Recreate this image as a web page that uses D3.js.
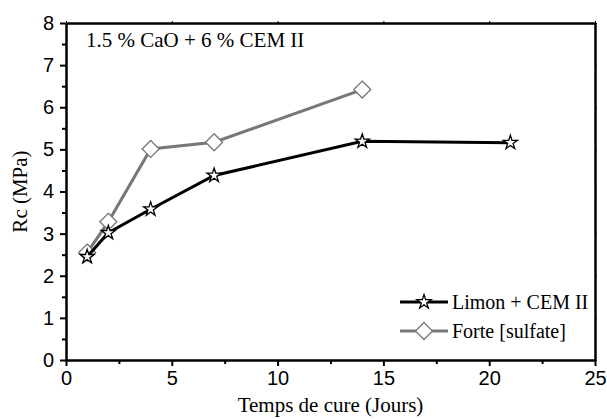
<!DOCTYPE html>
<html>
<head>
<meta charset="utf-8">
<script src="https://cdn.jsdelivr.net/npm/d3@7"></script>
<style>
  body { margin: 0; background: #fff; }
  .tick text { font-family: "Liberation Sans", Arial, sans-serif; }
</style>
</head>
<body>
<div id="chart"></div>
<script>
// data
const days = [1, 2, 4, 7, 14, 21];
const limonCem = [2.45, 3.02, 3.58, 4.38, 5.19, 5.16];
const forteDays = [1, 2, 4, 7, 14];
const forteSulfate = [2.55, 3.28, 5.01, 5.17, 6.42];
const xTicks = [0, 5, 10, 15, 20, 25];
const yTicks = [0, 1, 2, 3, 4, 5, 6, 7, 8];
const seriesNames = ["Limon + CEM II", "Forte [sulfate]"];
const titleText = "1.5 % CaO + 6 % CEM II";

const W = 607, H = 419;
const margin = { top: 23, right: 12, bottom: 59, left: 66 };
const width = W - margin.left - margin.right;
const height = H - margin.top - margin.bottom;

const svg = d3.select("#chart").append("svg")
    .attr("width", W)
    .attr("height", H);

const g = svg.append("g")
    .attr("transform", `translate(${margin.left},${margin.top})`);

const x = d3.scaleLinear().domain([0, 25]).range([0, width]);
const y = d3.scaleLinear().domain([0, 8]).range([height, 0]);

// minor ticks
g.append("g")
    .attr("transform", `translate(0,${height})`)
    .call(d3.axisBottom(x).tickValues(d3.range(2.5, 25, 5)).tickSize(4).tickFormat(""))
    .call(a => a.select(".domain").remove())
    .selectAll("line").attr("stroke-width", 2);
g.append("g")
    .call(d3.axisLeft(y).tickValues(d3.range(0.5, 8, 1)).tickSize(4).tickFormat(""))
    .call(a => a.select(".domain").remove())
    .selectAll("line").attr("stroke-width", 2);

// top / right frame with tiny ticks
g.append("g")
    .call(d3.axisTop(x).tickValues(xTicks).tickSize(2).tickFormat("").tickSizeOuter(0))
    .call(a => a.select(".domain").attr("stroke-width", 2.5));
g.append("g")
    .attr("transform", `translate(${width},0)`)
    .call(d3.axisRight(y).tickValues(yTicks).tickSize(2).tickFormat("").tickSizeOuter(0))
    .call(a => a.select(".domain").attr("stroke-width", 2.5));

// major axes
const xAxis = g.append("g")
    .attr("transform", `translate(0,${height})`)
    .call(d3.axisBottom(x).tickValues(xTicks).tickSize(6).tickPadding(5).tickSizeOuter(0));
xAxis.select(".domain").attr("stroke-width", 2.5);
xAxis.selectAll("line").attr("stroke-width", 2);
xAxis.selectAll("text").style("font-size", "20px").attr("fill", "#000");

const yAxis = g.append("g")
    .call(d3.axisLeft(y).tickValues(yTicks).tickSize(6).tickPadding(6).tickSizeOuter(0));
yAxis.select(".domain").attr("stroke-width", 2.5);
yAxis.selectAll("line").attr("stroke-width", 2);
yAxis.selectAll("text").style("font-size", "20px").attr("fill", "#000");

// axis titles
svg.append("text")
    .attr("x", margin.left + width / 2)
    .attr("y", 412)
    .attr("text-anchor", "middle")
    .style("font-family", "'Liberation Serif', 'Times New Roman', serif")
    .style("font-size", "21px")
    .text("Temps de cure (Jours)");

svg.append("text")
    .attr("transform", `translate(27,${margin.top + height / 2}) rotate(-90)`)
    .attr("text-anchor", "middle")
    .style("font-family", "'Liberation Serif', 'Times New Roman', serif")
    .style("font-size", "21px")
    .text("Rc (MPa)");

g.append("text")
    .attr("x", 20)
    .attr("y", 24)
    .style("font-family", "'Liberation Serif', 'Times New Roman', serif")
    .style("font-size", "21px")
    .text(titleText);

const star = d3.symbol().type(d3.symbolStar).size(62);
const diamond = d => `M0,${-d}L${d},0L0,${d}L${-d},0Z`;

const line = d3.line().x(d => x(d[0])).y(d => y(d[1]));

const forteData = forteDays.map((d, i) => [d, forteSulfate[i]]);
const limonData = days.map((d, i) => [d, limonCem[i]]);

// gray series
g.append("path")
    .datum(forteData)
    .attr("d", line)
    .attr("fill", "none")
    .attr("stroke", "#777")
    .attr("stroke-width", 3);
g.selectAll(".dia")
    .data(forteData)
    .enter().append("path")
    .attr("class", "dia")
    .attr("transform", d => `translate(${x(d[0])},${y(d[1])})`)
    .attr("d", diamond(8.5))
    .attr("fill", "#fff")
    .attr("stroke", "#777")
    .attr("stroke-width", 1.3);

// black series
g.append("path")
    .datum(limonData)
    .attr("d", line)
    .attr("fill", "none")
    .attr("stroke", "#000")
    .attr("stroke-width", 3);
g.selectAll(".star")
    .data(limonData)
    .enter().append("path")
    .attr("class", "star")
    .attr("transform", d => `translate(${x(d[0])},${y(d[1])})`)
    .attr("d", star)
    .attr("fill", "#fff")
    .attr("stroke", "#000")
    .attr("stroke-width", 1.3);

// legend
const legend = svg.append("g");
const legendRows = [
    { name: seriesNames[0], color: "#000", mark: star() },
    { name: seriesNames[1], color: "#777", mark: diamond(8.5) }
];
legendRows.forEach((r, i) => {
    const ly = 302 + i * 29;
    legend.append("line")
        .attr("x1", 400).attr("x2", 448)
        .attr("y1", ly).attr("y2", ly)
        .attr("stroke", r.color).attr("stroke-width", 3);
    legend.append("path")
        .attr("transform", `translate(424,${ly})`)
        .attr("d", r.mark)
        .attr("fill", "#fff")
        .attr("stroke", r.color)
        .attr("stroke-width", 1.3);
    legend.append("text")
        .attr("x", 452)
        .attr("y", ly)
        .attr("dy", "0.35em")
        .style("font-family", "'Liberation Serif', 'Times New Roman', serif")
        .style("font-size", "20px")
        .text(r.name);
});
</script>
</body>
</html>
